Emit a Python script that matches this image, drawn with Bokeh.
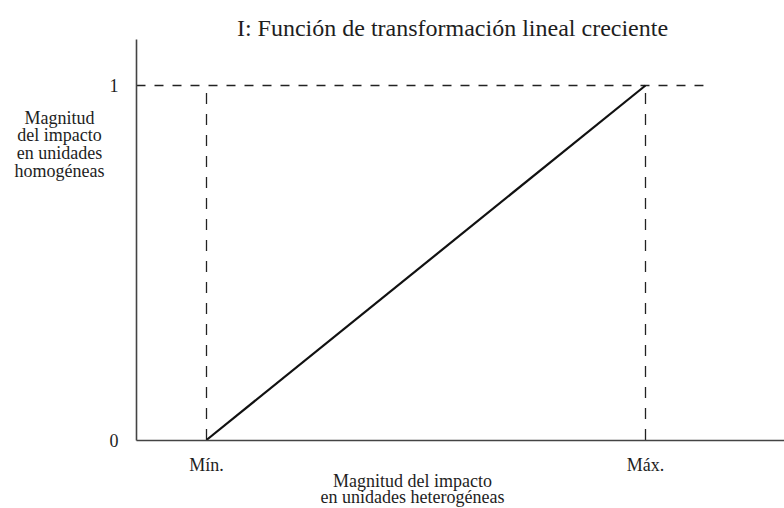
from bokeh.plotting import figure
from bokeh.models import Range1d, FixedTicker
from bokeh.core.properties import value
from bokeh.embed import file_html
from bokeh.resources import INLINE

# Data
x_ticks = [0, 1]
x_tick_labels = ["Mín.", "Máx."]
y_ticks = [0, 1]
y_tick_labels = ["0", "1"]
line_x = [0, 1]
line_y = [0, 1]
guide_h_end = 1.132
guide_v_x = [0, 1]
guide_v_top = 0.99
axis_top = 1.13
title_text = "I: Función de transformación lineal creciente"
x_label_lines = ["Magnitud del impacto", "en unidades heterogéneas"]
y_label_lines = ["Magnitud", "del impacto", "en unidades", "homogéneas"]

FONT = "Liberation Serif"
TXT = "#1e1e1e"
W, H = 784, 508

# pixel <-> data layout helpers (x: Mín at 206px, Máx at 645px; y: 0 at 439.5px, 1 at 85px)
X0, XS = 206.0, 439.0
Y0, YS = 439.5, 354.5


def px(xp):
    return (xp - X0) / XS


def py(yp):
    return (Y0 - yp) / YS


p = figure(width=W, height=H, output_backend="svg", toolbar_location=None,
           x_range=Range1d(px(0), px(W)), y_range=Range1d(py(H), py(0)),
           min_border=0, min_border_left=0, min_border_right=0,
           min_border_top=0, min_border_bottom=0)
p.outline_line_color = None
p.xgrid.visible = False
p.ygrid.visible = False
p.background_fill_color = "white"
p.border_fill_color = "white"

for ax in (p.xaxis[0], p.yaxis[0]):
    ax.axis_line_color = "#444444"
    ax.axis_line_width = 1.6
    ax.major_tick_line_color = None
    ax.minor_tick_line_color = None
    ax.major_label_text_font = FONT
    ax.major_label_text_font_size = "18px"
    ax.major_label_text_color = TXT

p.xaxis[0].fixed_location = 0
p.xaxis[0].ticker = FixedTicker(ticks=x_ticks)
p.xaxis[0].major_label_overrides = dict(zip(x_ticks, x_tick_labels))
p.xaxis[0].major_label_standoff = 9
p.xaxis[0].bounds = (px(136), px(W))
p.yaxis[0].fixed_location = px(136)
p.yaxis[0].ticker = FixedTicker(ticks=y_ticks)
p.yaxis[0].major_label_overrides = dict(zip(y_ticks, y_tick_labels))
p.yaxis[0].major_label_standoff = 12
p.yaxis[0].bounds = (0, axis_top)

# dashed guides
p.line([px(136), guide_h_end], [1, 1], line_color="#222222", line_width=1.3,
       line_dash="9 9")
for gx in guide_v_x:
    p.line([gx, gx], [0, guide_v_top], line_color="#222222", line_width=1.3,
           line_dash="11 10")

# main line
p.line(line_x, line_y, line_color="#111111", line_width=2.2)

# title
p.text(x=[px(452)], y=[py(27)], text=[title_text], text_font=value(FONT),
       text_font_size="24px", text_color=TXT, text_align="center",
       text_baseline="alphabetic")

# x label
p.text(x=[px(412)] * len(x_label_lines),
       y=[py(480 + i * 16.5) for i in range(len(x_label_lines))],
       text=x_label_lines, text_font=value(FONT), text_font_size="18px",
       text_color=TXT, text_align="center", text_baseline="alphabetic")

# y label
p.text(x=[px(59)] * len(y_label_lines),
       y=[py(117 + i * 17.7) for i in range(len(y_label_lines))],
       text=y_label_lines, text_font=value(FONT), text_font_size="18px",
       text_color=TXT, text_align="center", text_baseline="alphabetic")

open("out.html", "w").write(file_html(p, INLINE))
